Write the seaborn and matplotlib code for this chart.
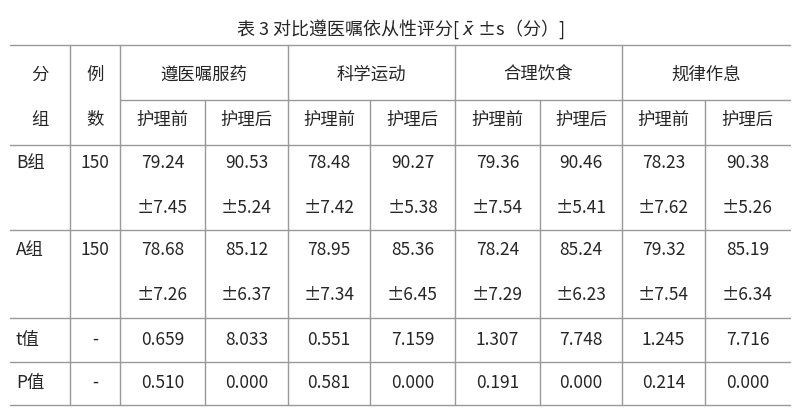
import matplotlib
matplotlib.use("Agg")
import matplotlib.pyplot as plt
import seaborn as sns

sns.set_theme(style="white")
plt.rcParams['font.family'] = ['Noto Sans CJK SC', 'DejaVu Sans']

title = "表 3 对比遵医嘱依从性评分[ $\\bar{x}$ ±s（分）]"
groups = ["遵医嘱服药", "科学运动", "合理饮食", "规律作息"]
subs = ["护理前", "护理后"]
row_labels = ["B组", "A组"]
counts = ["150", "150"]
means = [["79.24", "90.53", "78.48", "90.27", "79.36", "90.46", "78.23", "90.38"],
         ["78.68", "85.12", "78.95", "85.36", "78.24", "85.24", "79.32", "85.19"]]
sds = [["±7.45", "±5.24", "±7.42", "±5.38", "±7.54", "±5.41", "±7.62", "±5.26"],
       ["±7.26", "±6.37", "±7.34", "±6.45", "±7.29", "±6.23", "±7.54", "±6.34"]]
t_vals = ["0.659", "8.033", "0.551", "7.159", "1.307", "7.748", "1.245", "7.716"]
p_vals = ["0.510", "0.000", "0.581", "0.000", "0.191", "0.000", "0.214", "0.000"]

fig = plt.figure(figsize=(8, 4.17), dpi=100)
ax = fig.add_axes([0, 0, 1, 1])
ax.set_xlim(0, 800); ax.set_ylim(417, 0); ax.axis("off")

col_edges = [10, 70, 120, 205, 288, 370, 455, 540, 622, 705, 790]
centers = [(col_edges[i] + col_edges[i+1]) / 2 for i in range(10)]
fs = 12.5
lc = "#999999"

ax.text(400, 29, title, ha="center", va="center", fontsize=13)

for y in [45, 145, 230, 318, 362, 405]:
    ax.plot([10, 790], [y, y], color=lc, lw=1)
ax.plot([120, 790], [100, 100], color=lc, lw=1)
for x in [70, 120, 288, 455, 622]:
    ax.plot([x, x], [45, 405], color=lc, lw=1)
for x in [205, 370, 540, 705]:
    ax.plot([x, x], [100, 405], color=lc, lw=1)

ax.text(centers[0], 75, "分", ha="center", va="center", fontsize=fs)
ax.text(centers[0], 120, "组", ha="center", va="center", fontsize=fs)
ax.text(centers[1], 75, "例", ha="center", va="center", fontsize=fs)
ax.text(centers[1], 120, "数", ha="center", va="center", fontsize=fs)
for i, g in enumerate(groups):
    ax.text((col_edges[2 + 2*i] + col_edges[4 + 2*i]) / 2, 75, g, ha="center", va="center", fontsize=fs)
for j in range(8):
    ax.text(centers[2 + j], 120, subs[j % 2], ha="center", va="center", fontsize=fs)

row_y = [(163, 208), (250, 295)]
for r in range(2):
    y1, y2 = row_y[r]
    ax.text(16, y1, row_labels[r], ha="left", va="center", fontsize=fs)
    ax.text(centers[1], y1, counts[r], ha="center", va="center", fontsize=fs)
    for j in range(8):
        ax.text(centers[2 + j], y1, means[r][j], ha="center", va="center", fontsize=fs)
        ax.text(centers[2 + j], y2, sds[r][j], ha="center", va="center", fontsize=fs)

for label, vals, y in [("t值", t_vals, 340), ("P值", p_vals, 383)]:
    ax.text(16, y, label, ha="left", va="center", fontsize=fs)
    ax.text(centers[1], y, "-", ha="center", va="center", fontsize=fs)
    for j in range(8):
        ax.text(centers[2 + j], y, vals[j], ha="center", va="center", fontsize=fs)

fig.savefig("out.png", dpi=100)
